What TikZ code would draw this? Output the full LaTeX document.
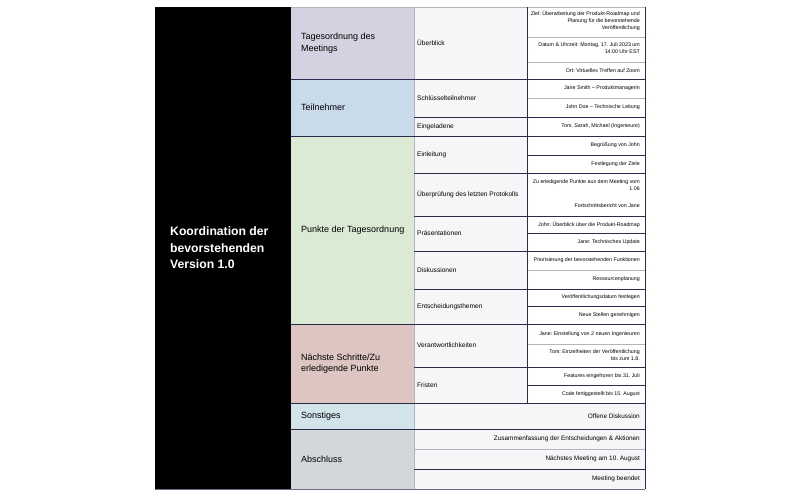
\documentclass[tikz,border=0pt]{standalone}
\usepackage{fontspec}
\setmainfont{Liberation Sans}
\frenchspacing
\definecolor{navy}{HTML}{2B2B4E}
\definecolor{lgrey}{HTML}{B4B4BE}
\definecolor{cA}{HTML}{D6D1E0}
\definecolor{cB}{HTML}{C9DAEB}
\definecolor{cC}{HTML}{DAEAD4}
\definecolor{cD}{HTML}{DDC5C1}
\definecolor{cE}{HTML}{D2E3EA}
\definecolor{cF}{HTML}{D4D7D9}
\definecolor{cG}{HTML}{F6F6F8}
\begin{document}
\frenchspacing
\begin{tikzpicture}[x=1pt,y=-1pt,
  ttl/.style={font=\fontsize{12.2}{16.5}\selectfont\bfseries, text=white, anchor=west, align=left, inner sep=0},
  tA/.style={font=\fontsize{9}{11.5}\selectfont, anchor=west, align=left, inner sep=0},
  tB/.style={font=\fontsize{6.6}{7.8}\selectfont, anchor=west, align=left, inner sep=0},
  tC/.style={font=\fontsize{5.3}{7.2}\selectfont, anchor=east, align=right, inner sep=0},
  tD/.style={font=\fontsize{6.4}{7.5}\selectfont, anchor=east, inner sep=0},
  dk/.style={draw=navy, line width=0.8pt},
  lt/.style={draw=lgrey, line width=0.6pt}]
\useasboundingbox (0,0) rectangle (800,495);
\fill[white] (0,0) rectangle (800,495);
% fills
\fill[black] (155,7) rectangle (291,489);
\fill[cA] (291,7) rectangle (414,79);
\fill[cB] (291,79) rectangle (414,136);
\fill[cC] (291,136) rectangle (414,324);
\fill[cD] (291,324) rectangle (414,403);
\fill[cE] (291,403) rectangle (414,429);
\fill[cF] (291,429) rectangle (414,489);
\fill[cG] (414,7) rectangle (527,403);
\fill[cG] (414,403) rectangle (645,489);
% light lines
\draw[lt] (291,7) -- (645,7);
\draw[lt] (414,7) -- (414,489);
\foreach \y in {37,62,98,270,344,449} \draw[lt] (527,\y) -- (645,\y);
\draw[lt] (414,449) -- (645,449);
% dark lines
\draw[dk] (527,7) -- (527,403);
\draw[dk] (645,7) -- (645,489);
\foreach \y in {79,136,324,403,429} \draw[dk] (291,\y) -- (645,\y);
\foreach \y in {117,173,216,251,289,367} \draw[dk] (414,\y) -- (645,\y);
\foreach \y in {155,233,306,385} \draw[dk] (527,\y) -- (645,\y);
\draw[dk] (414,469) -- (645,469);
\draw[draw=navy!70, line width=1pt] (155,489) -- (645,489);
% title
\node[ttl] (title) at (170,248) {Koordination der\\bevorstehenden\\Version 1.0};
% column 2
\node[tA] (g1) at (301,43) {Tagesordnung des\\Meetings};
\node[tA] (g2) at (301,107.5) {Teilnehmer};
\node[tA] (g3) at (301,230) {Punkte der Tagesordnung};
\node[tA] (g4) at (301,363.5) {Nächste Schritte/Zu\\erledigende Punkte};
\node[tA] (g5) at (301,416) {Sonstiges};
\node[tA] (g6) at (301,459) {Abschluss};
% column 3
\node[tB] (s1) at (417,43) {Überblick};
\node[tB] (s2) at (417,98) {Schlüsselteilnehmer};
\node[tB] (s3) at (417,126.5) {Eingeladene};
\node[tB] (s4) at (417,154.5) {Einleitung};
\node[tB] (s5) at (417,194.5) {Überprüfung des letzten Protokolls};
\node[tB] (s6) at (417,233.5) {Präsentationen};
\node[tB] (s7) at (417,270) {Diskussionen};
\node[tB] (s8) at (417,306.5) {Entscheidungsthemen};
\node[tB] (s9) at (417,345.5) {Verantwortlichkeiten};
\node[tB] (s10) at (417,385) {Fristen};
% column 4
\node[tC] (d1) at (640,21) {Ziel: Überarbeitung der Produkt-Roadmap und\\Planung für die bevorstehende\\Veröffentlichung};
\node[tC] (d2) at (640,48.5) {Datum \& Uhrzeit: Montag, 17. Juli 2023 um\\14:00 Uhr EST};
\node[tC] (d3) at (640,70.5) {Ort: Virtuelles Treffen auf Zoom};
\node[tC] (d4) at (640,88.5) {Jane Smith – Produktmanagerin};
\node[tC] (d5) at (640,107.5) {John Doe – Technische Leitung};
\node[tC] (d6) at (640,126.5) {Tom, Sarah, Michael (Ingenieure)};
\node[tC] (d7) at (640,145.5) {Begrüßung von John};
\node[tC] (d8) at (640,164) {Festlegung der Ziele};
\node[tC] (d9) at (640,185) {Zu erledigende Punkte aus dem Meeting vom\\1.06};
\node[tC] (d10) at (640,206) {Fortschrittsbericht von Jane};
\node[tC] (d11) at (640,224.5) {John: Überblick über die Produkt-Roadmap};
\node[tC] (d12) at (640,242) {Jane: Technisches Update};
\node[tC] (d13) at (640,260.5) {Priorisierung der bevorstehenden Funktionen};
\node[tC] (d14) at (640,279.5) {Ressourcenplanung};
\node[tC] (d15) at (640,297.5) {Veröffentlichungsdatum festlegen};
\node[tC] (d16) at (640,315) {Neue Stellen genehmigen};
\node[tC] (d17) at (640,334) {Jane: Einstellung von 2 neuen Ingenieuren};
\node[tC] (d18) at (640,355.5) {Tom: Einzelheiten der Veröffentlichung\\bis zum 1.8.};
\node[tC] (d19) at (640,376) {Features eingefroren bis 31. Juli};
\node[tC] (d20) at (640,394) {Code fertiggestellt bis 15. August};
\node[tD] (e1) at (640,416) {Offene Diskussion};
\node[tD] (e2) at (640,439) {Zusammenfassung der Entscheidungen \& Aktionen};
\node[tD] (e3) at (640,459) {Nächstes Meeting am 10. August};
\node[tD] (e4) at (640,479) {Meeting beendet};
\end{tikzpicture}
\end{document}
